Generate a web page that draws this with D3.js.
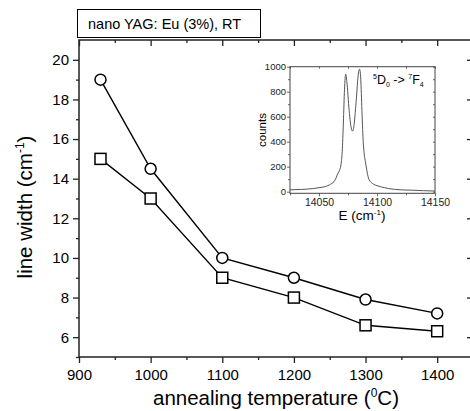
<!DOCTYPE html>
<html>
<head>
<meta charset="utf-8">
<script src="https://cdn.jsdelivr.net/npm/d3@7"></script>
<style>
  body { margin: 0; background: #fff; }
  svg { display: block; font-family: "Liberation Sans", Arial, sans-serif; }
</style>
</head>
<body>
<div id="plot"></div>
<script>
// main data: line width vs annealing temperature
const temps = [930, 1000, 1100, 1200, 1300, 1400];
const circleWidths = [19, 14.5, 10, 9, 7.9, 7.2];
const squareWidths = [15, 13, 9, 8, 6.6, 6.3];
const yTicks = [6, 8, 10, 12, 14, 16, 18, 20];
const xTicks = [900, 1000, 1100, 1200, 1300, 1400];

// inset spectrum
const specE = [14025, 14035, 14045, 14050, 14055, 14060, 14064, 14066, 14068, 14069, 14070, 14071, 14072, 14073, 14074, 14076, 14078, 14079, 14080, 14082, 14084, 14085, 14086, 14087, 14088, 14089, 14090, 14093, 14097, 14100, 14103, 14110, 14120, 14130, 14140, 14150];
const specCounts = [15, 18, 25, 32, 40, 60, 95, 140, 180, 220, 320, 550, 820, 940, 880, 650, 500, 485, 520, 720, 950, 980, 900, 650, 420, 300, 240, 100, 60, 48, 40, 25, 15, 12, 8, 5];
const insetXTicks = [14050, 14100, 14150];
const insetYTicks = [0, 200, 400, 600, 800, 1000];

const width = 470, height = 411;
const margin = { top: 40, left: 79, right: 473, bottom: 357 };

const svg = d3.select("#plot").append("svg")
  .attr("width", width).attr("height", height);

const x = d3.scaleLinear().domain([900, 1450]).range([margin.left, margin.right]);
const y = d3.scaleLinear().domain([5, 21]).range([margin.bottom, margin.top]);

const axisColor = "#222";

// frame
svg.append("rect")
  .attr("x", margin.left).attr("y", margin.top)
  .attr("width", margin.right - margin.left).attr("height", margin.bottom - margin.top)
  .attr("fill", "none").attr("stroke", axisColor).attr("stroke-width", 1.5);

function styleAxis(g) {
  g.select(".domain").remove();
  g.selectAll("line").attr("stroke", axisColor).attr("stroke-width", 1.3);
}

// minor ticks
const xMinor = d3.range(950, 1450, 100);
const yMinor = d3.range(5, 21, 2);

svg.append("g").attr("transform", `translate(0,${margin.bottom})`)
  .call(d3.axisBottom(x).tickValues(xTicks).tickSize(6).tickPadding(6).tickFormat(d3.format("d")))
  .call(styleAxis)
  .call(g => g.selectAll("text").attr("font-size", 15).attr("fill", "#000").attr("font-family", null));
svg.append("g").attr("transform", `translate(0,${margin.bottom})`)
  .call(d3.axisBottom(x).tickValues(xMinor).tickSize(3).tickFormat(""))
  .call(styleAxis);
svg.append("g").attr("transform", `translate(0,${margin.top})`)
  .call(d3.axisTop(x).tickValues(xTicks).tickSize(-6).tickFormat(""))
  .call(styleAxis);
svg.append("g").attr("transform", `translate(0,${margin.top})`)
  .call(d3.axisTop(x).tickValues(xMinor).tickSize(-3).tickFormat(""))
  .call(styleAxis);

svg.append("g").attr("transform", `translate(${margin.left},0)`)
  .call(d3.axisLeft(y).tickValues(yTicks).tickSize(6).tickPadding(4))
  .call(styleAxis)
  .call(g => g.selectAll("text").attr("font-size", 15).attr("fill", "#000").attr("font-family", null));
svg.append("g").attr("transform", `translate(${margin.left},0)`)
  .call(d3.axisLeft(y).tickValues(yMinor).tickSize(3).tickFormat(""))
  .call(styleAxis);
svg.append("g").attr("transform", `translate(${margin.right},0)`)
  .call(d3.axisRight(y).tickValues(yTicks).tickSize(-6).tickFormat(""))
  .call(styleAxis);
svg.append("g").attr("transform", `translate(${margin.right},0)`)
  .call(d3.axisRight(y).tickValues(yMinor).tickSize(-3).tickFormat(""))
  .call(styleAxis);

// lines + markers
const line = d3.line().x(d => x(d[0])).y(d => y(d[1]));
const circPts = temps.map((t, i) => [t, circleWidths[i]]);
const sqPts = temps.map((t, i) => [t, squareWidths[i]]);

[circPts, sqPts].forEach(pts => {
  svg.append("path").datum(pts)
    .attr("d", line).attr("fill", "none").attr("stroke", "#000").attr("stroke-width", 1.4);
});

svg.selectAll(".circ").data(circPts).enter().append("circle")
  .attr("cx", d => x(d[0])).attr("cy", d => y(d[1])).attr("r", 5.5)
  .attr("fill", "#fff").attr("stroke", "#000").attr("stroke-width", 1.5);

svg.selectAll(".sq").data(sqPts).enter().append("rect")
  .attr("x", d => x(d[0]) - 5.5).attr("y", d => y(d[1]) - 5.5)
  .attr("width", 11).attr("height", 11)
  .attr("fill", "#fff").attr("stroke", "#000").attr("stroke-width", 1.5);

// axis titles
svg.append("text")
  .attr("x", 276).attr("y", 405).attr("text-anchor", "middle").attr("font-size", 20.5)
  .html('annealing temperature (<tspan dy="-8" font-size="12">0</tspan><tspan dy="8">C)</tspan>');

svg.append("text")
  .attr("transform", "translate(32,207) rotate(-90)").attr("text-anchor", "middle").attr("font-size", 20.5)
  .html('line width (cm<tspan dy="-8" font-size="12">-1</tspan><tspan dy="8">)</tspan>');

// title box
svg.append("rect")
  .attr("x", 77.5).attr("y", 9.5).attr("width", 183).attr("height", 28)
  .attr("fill", "#fff").attr("stroke", "#000").attr("stroke-width", 1);
svg.append("text")
  .attr("x", 88).attr("y", 29).attr("font-size", 14.5)
  .text("nano YAG: Eu (3%), RT");

// inset
const ix = d3.scaleLinear().domain([14025, 14150]).range([290, 435]);
const iy = d3.scaleLinear().domain([-13, 1000]).range([193.3, 66.7]);
const inset = svg.append("g");

inset.append("rect")
  .attr("x", 290).attr("y", 66.7).attr("width", 145).attr("height", 126.6)
  .attr("fill", "#fff").attr("stroke", "#444").attr("stroke-width", 1);

function styleInset(g) {
  g.select(".domain").remove();
  g.selectAll("line").attr("stroke", "#444").attr("stroke-width", 0.8);
  g.selectAll("text").attr("font-size", 9.5).attr("fill", "#222").attr("font-family", null);
}
const ixMinor = d3.range(14025, 14150, 25).filter(v => v % 50 !== 0);
const iyMinor = d3.range(100, 1000, 200);

inset.append("g").attr("transform", "translate(0,193.3)")
  .call(d3.axisBottom(ix).tickValues(insetXTicks).tickSize(3).tickPadding(2).tickFormat(d3.format("d")))
  .call(styleInset)
  .call(g => g.selectAll("text").attr("font-size", 10.5));
inset.append("g").attr("transform", "translate(0,193.3)")
  .call(d3.axisBottom(ix).tickValues(ixMinor).tickSize(2).tickFormat(""))
  .call(styleInset);
inset.append("g").attr("transform", "translate(0,66.7)")
  .call(d3.axisTop(ix).tickValues(insetXTicks.concat(ixMinor)).tickSize(-2).tickFormat(""))
  .call(styleInset);
inset.append("g").attr("transform", "translate(290,0)")
  .call(d3.axisLeft(iy).tickValues(insetYTicks).tickSize(3).tickPadding(1).tickFormat(d3.format("d")))
  .call(styleInset);
inset.append("g").attr("transform", "translate(290,0)")
  .call(d3.axisLeft(iy).tickValues(iyMinor).tickSize(2).tickFormat(""))
  .call(styleInset);
inset.append("g").attr("transform", "translate(435,0)")
  .call(d3.axisRight(iy).tickValues(insetYTicks.concat(iyMinor)).tickSize(-2).tickFormat(""))
  .call(styleInset);

const specLine = d3.line().curve(d3.curveMonotoneX)
  .x((d, i) => ix(specE[i])).y(d => iy(d));
inset.append("path").datum(specCounts)
  .attr("d", specLine).attr("fill", "none").attr("stroke", "#555").attr("stroke-width", 1);

inset.append("text")
  .attr("x", 362).attr("y", 220).attr("text-anchor", "middle").attr("font-size", 13.5)
  .html('E (cm<tspan dy="-5" font-size="8">-1</tspan><tspan dy="5">)</tspan>');
inset.append("text")
  .attr("transform", "translate(266,130) rotate(-90)").attr("text-anchor", "middle").attr("font-size", 11.5)
  .text("counts");
inset.append("text")
  .attr("x", 373).attr("y", 84).attr("font-size", 12.5)
  .html('<tspan dy="-5" font-size="7">5</tspan><tspan dy="5">D</tspan><tspan dy="3" font-size="7">0</tspan><tspan dy="-3"> -&gt; </tspan><tspan dy="-5" font-size="7">7</tspan><tspan dy="5">F</tspan><tspan dy="3" font-size="7">4</tspan>');
</script>
</body>
</html>
